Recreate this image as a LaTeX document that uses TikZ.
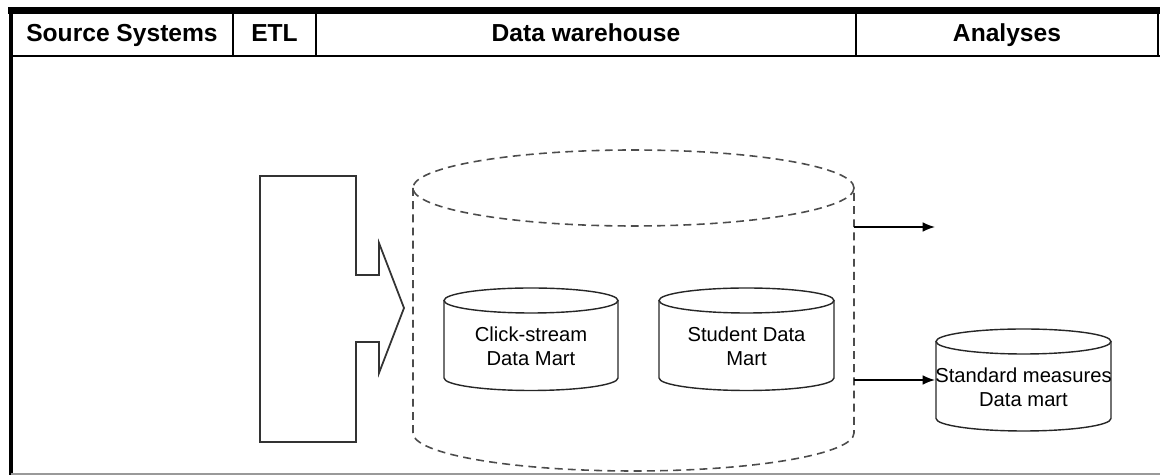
\documentclass[tikz,border=0pt]{standalone}
\usepackage{fontspec}
\setmainfont{Liberation Sans}
\usetikzlibrary{positioning,calc,arrows.meta}

% cylinder: [style]{centre x}{top y}{bottom y}{x radius}{y radius}
\newcommand\datacyl[6][]{%
  \draw[#1] (#2,#3) ellipse [x radius=#5, y radius=#6];
  \draw[#1] (#2-#5,#3) -- (#2-#5,#4)
    arc [start angle=180, end angle=0, x radius=#5, y radius=#6] -- (#2+#5,#3);
}

\tikzset{
  heading/.style={font=\bfseries\fontsize{14}{16}\selectfont, anchor=base},
  martlabel/.style={font=\fontsize{11.5}{13.8}\selectfont, align=center, inner sep=0pt},
  martline/.style={draw=black!85, line width=0.8pt},
  dwhline/.style={draw=black!70, line width=0.9pt, dash pattern=on 4.5pt off 3pt},
  flow/.style={-{Latex[length=7pt,width=5.5pt]}, line width=0.85pt},
}

\begin{document}
\begin{tikzpicture}[x=0.02cm, y=-0.02cm, every node/.append style={align=center}]
    \useasboundingbox (0,0) rectangle (1160,475);

    % header
    \draw[line width=4.5pt] (8,10.5) -- (1160,10.5);
    \draw[line width=2.5pt] (11,8) -- (11,475);
    \draw[line width=1.4pt] (11,56) -- (1160,56);
    \draw[line width=1.2pt] (233,13) -- (233,56)
                            (316,13) -- (316,56)
                            (856,13) -- (856,56)
                            (1158,13) -- (1158,56);
    \draw[black!40, line width=0.6pt] (11,474) -- (1160,474);
    \node[heading] (src)  at (122,42)    {Source Systems};
    \node[heading] (etl)  at (274.5,42)  {ETL};
    \node[heading] (dwhh) at (586,42)    {Data warehouse};
    \node[heading] (ana)  at (1007,42)   {Analyses};

    % etl arrow
    \draw[black!80, line width=1pt]
      (260,176) -- (356,176) -- (356,275) -- (379,275) -- (379,243) -- (404,308)
      -- (379,373) -- (379,342) -- (356,342) -- (356,442) -- (260,442) -- cycle;

    % data warehouse
    \datacyl[dwhline]{633.5}{188}{433}{220.5}{38}
    \node[inner sep=0pt, minimum width=8.82cm, minimum height=5.6cm] (dwh) at (633.5,310) {};

    \datacyl[martline]{531}{300.5}{378}{87}{12.5}
    \node[martlabel] (click) at (531,346) {Click-stream\\Data Mart};
    \datacyl[martline]{746.5}{300.5}{378}{87.5}{12.5}
    \node[martlabel] (student) at (746.5,346) {Student Data\\Mart};

    % analyses
    \datacyl[martline]{1023.5}{341.5}{418.5}{87.5}{12.5}
    \node[martlabel, minimum width=3.5cm] (std) at (1023.5,387) {Standard measures\\Data mart};
    \coordinate (feed) at (935,227);
    \coordinate (stdin) at ([yshift=0.14cm]std.west);

    \draw[flow] (dwh.east |- feed) -- (feed);
    \draw[flow] (dwh.east |- stdin) -- (stdin);
  \end{tikzpicture}
\end{document}
